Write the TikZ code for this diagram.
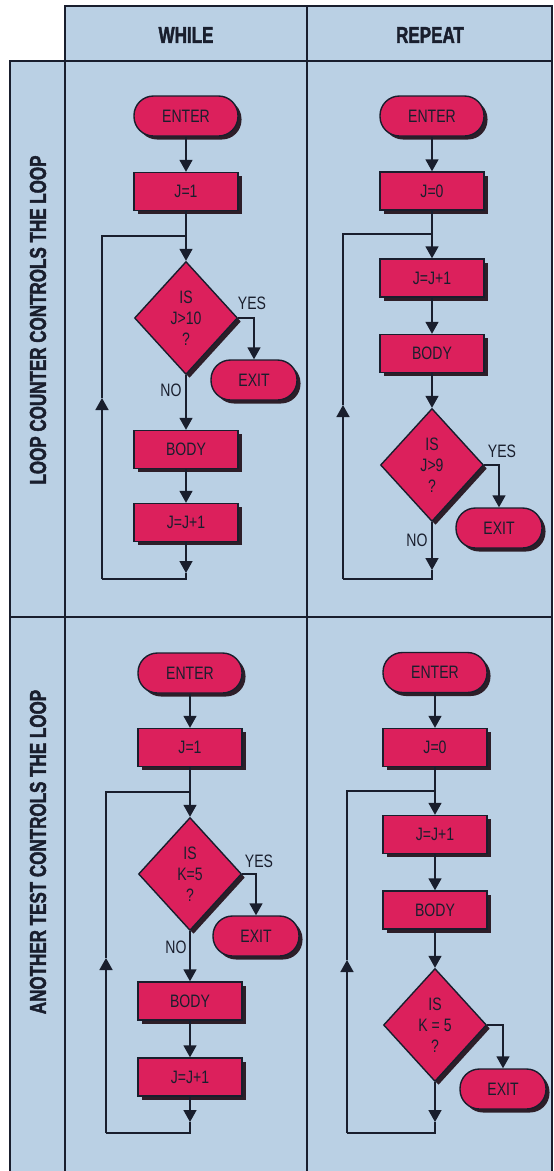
\documentclass[tikz,border=0pt]{standalone}
\usepackage{fontspec}
\setmainfont{Liberation Sans}
\newfontfamily\boxfont[FakeStretch=0.78]{Liberation Sans}
\newfontfamily\headfont[FakeStretch=0.74,FakeBold=1.8]{Liberation Sans}
\usetikzlibrary{shapes.geometric,shadows,arrows.meta}
\definecolor{panel}{RGB}{186,208,228}
\definecolor{boxred}{RGB}{220,32,92}
\definecolor{ink}{RGB}{25,30,45}
\definecolor{shade}{RGB}{45,30,40}
\begin{document}
\begin{tikzpicture}[x=1pt,y=-1pt,
  frame/.style={draw=ink,line width=1.6pt},
  conn/.style={draw=ink,line width=1.6pt},
  arr/.style={conn,-{Triangle[length=12pt,width=13pt]}},
  base/.style={draw=ink,line width=1.4pt,fill=boxred,
    font=\boxfont\fontsize{18}{21}\selectfont,text=ink,inner sep=0pt,
    drop shadow={opacity=1,fill=shade,shadow xshift=3.5pt,shadow yshift=-3.5pt}},
  procbox/.style={base,rectangle,minimum width=104pt,minimum height=38pt},
  term/.style={base,rectangle,rounded corners=19.5pt,minimum width=104pt,minimum height=40pt},
  exitbox/.style={term,minimum width=86pt},
  test/.style={base,diamond,minimum width=103pt,minimum height=113pt,align=center},
  lab/.style={font=\boxfont\fontsize{18}{21}\selectfont,text=ink,inner sep=0pt},
  head/.style={font=\headfont\bfseries\fontsize{23}{28}\selectfont,text=ink,inner sep=0pt}
]
\useasboundingbox (0,0) rectangle (554,1171);
\fill[white] (0,0) rectangle (554,1171);
\fill[panel] (65,6) rectangle (552,1171);
\fill[panel] (10,61) rectangle (65,1171);
\draw[frame] (65,1171) -- (65,6) -- (552,6) -- (552,1171);
\draw[frame] (307,6) -- (307,1171);
\draw[frame] (10,1171) -- (10,61) -- (552,61);
\draw[frame] (10,617) -- (552,617);

\node[head] (hw) at (186,35) {WHILE};
\node[head] (hr) at (430,35) {REPEAT};
\node[head,rotate=90] (s1) at (38,320) {LOOP COUNTER CONTROLS THE LOOP};
\node[head,rotate=90] (s2) at (38,852) {ANOTHER TEST CONTROLS THE LOOP};

% ---------- top left: WHILE, loop counter
\node[term] (en1) at (186,116) {ENTER};
\node[procbox] (in1) at (186,191.5) {J=1};
\coordinate (jn1) at (186,236);
\node[test] (dc1) at (186,318) {IS\\J>10\\?};
\node[exitbox] (ex1) at (254,380) {EXIT};
\node[lab] (y1) at (252,303) {YES};
\node[lab] (n1) at (171,390) {NO};
\node[procbox] (bd1) at (186,449.5) {BODY};
\node[procbox] (ic1) at (186,522.5) {J=J+1};
\coordinate (ta1) at (186,573);
\coordinate (c1a) at (186,579);
\coordinate (c1b) at (102,579);
\coordinate (ua1) at (102,398);
\coordinate (c1c) at (102,236);
\draw[arr] (en1) -- (in1);
\draw[arr] (in1) -- (dc1);
\draw[arr] (dc1.east) -| (ex1.north);
\draw[arr] (dc1) -- (bd1);
\draw[arr] (bd1) -- (ic1);
\draw[arr] (ic1) -- (ta1);
\draw[conn] (ta1) -- (c1a) -- (c1b);
\draw[arr] (c1b) -- (ua1);
\draw[conn] (ua1) -- (c1c) -- (jn1);

% ---------- top right: REPEAT, loop counter
\node[term] (en2) at (432,116) {ENTER};
\node[procbox] (in2) at (432,191) {J=0};
\coordinate (jn2) at (432,234);
\node[procbox] (ic2) at (432,278) {J=J+1};
\node[procbox] (bd2) at (432,353.5) {BODY};
\node[test] (dc2) at (432,465) {IS\\J>9\\?};
\node[lab] (y2) at (502,451) {YES};
\node[exitbox] (ex2) at (499,528) {EXIT};
\node[lab] (n2) at (417,540) {NO};
\coordinate (ta2) at (432,570);
\coordinate (c2a) at (432,579);
\coordinate (c2b) at (343,579);
\coordinate (ua2) at (343,405);
\coordinate (c2c) at (343,234);
\draw[arr] (en2) -- (in2);
\draw[arr] (in2) -- (ic2);
\draw[arr] (ic2) -- (bd2);
\draw[arr] (bd2) -- (dc2);
\draw[arr] (dc2.east) -| (ex2.north);
\draw[arr] (dc2) -- (ta2);
\draw[conn] (ta2) -- (c2a) -- (c2b);
\draw[arr] (c2b) -- (ua2);
\draw[conn] (ua2) -- (c2c) -- (jn2);

% ---------- bottom left: WHILE, another test
\node[term] (en3) at (190,673) {ENTER};
\node[procbox] (in3) at (190,747.5) {J=1};
\coordinate (jn3) at (190,792);
\node[test] (dc3) at (190,874) {IS\\K=5\\?};
\node[lab] (y3) at (259,861) {YES};
\node[exitbox] (ex3) at (256,936) {EXIT};
\node[lab] (n3) at (176,947) {NO};
\node[procbox] (bd3) at (190,1001) {BODY};
\node[procbox] (ic3) at (190,1077) {J=J+1};
\coordinate (ta3) at (190,1122);
\coordinate (c3a) at (190,1133);
\coordinate (c3b) at (106,1133);
\coordinate (ua3) at (106,958);
\coordinate (c3c) at (106,792);
\draw[arr] (en3) -- (in3);
\draw[arr] (in3) -- (dc3);
\draw[arr] (dc3.east) -| (ex3.north);
\draw[arr] (dc3) -- (bd3);
\draw[arr] (bd3) -- (ic3);
\draw[arr] (ic3) -- (ta3);
\draw[conn] (ta3) -- (c3a) -- (c3b);
\draw[arr] (c3b) -- (ua3);
\draw[conn] (ua3) -- (c3c) -- (jn3);

% ---------- bottom right: REPEAT, another test
\node[term] (en4) at (435,672.5) {ENTER};
\node[procbox] (in4) at (435,747.5) {J=0};
\coordinate (jn4) at (435,791);
\node[procbox] (ic4) at (435,834.5) {J=J+1};
\node[procbox] (bd4) at (435,910) {BODY};
\node[test] (dc4) at (435,1025) {IS\\K = 5\\?};
\node[exitbox] (ex4) at (503,1089) {EXIT};
\coordinate (ta4) at (435,1122);
\coordinate (c4a) at (435,1133);
\coordinate (c4b) at (347,1133);
\coordinate (ua4) at (347,960);
\coordinate (c4c) at (347,791);
\draw[arr] (en4) -- (in4);
\draw[arr] (in4) -- (ic4);
\draw[arr] (ic4) -- (bd4);
\draw[arr] (bd4) -- (dc4);
\draw[arr] (dc4.east) -| (ex4.north);
\draw[arr] (dc4) -- (ta4);
\draw[conn] (ta4) -- (c4a) -- (c4b);
\draw[arr] (c4b) -- (ua4);
\draw[conn] (ua4) -- (c4c) -- (jn4);
\end{tikzpicture}
\end{document}
